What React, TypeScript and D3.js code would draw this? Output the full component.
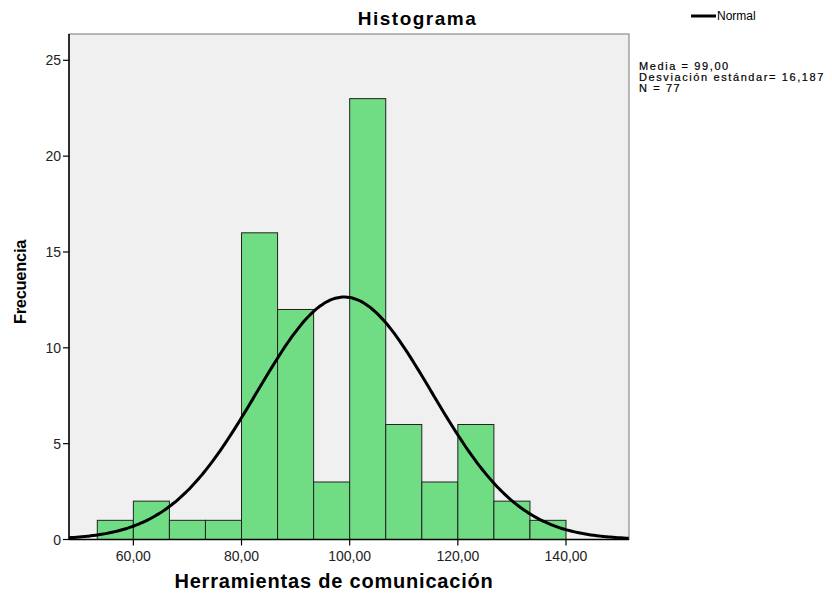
import React from "react";
import * as d3 from "d3";

const binStarts = [53.333, 60, 66.667, 73.333, 80, 86.667, 93.333, 100, 106.667, 113.333, 120, 126.667, 133.333];
const counts = [1, 2, 1, 1, 16, 12, 3, 23, 6, 3, 6, 2, 1];
const binWidth = 6.6667;
const xTicks = [60, 80, 100, 120, 140];
const yTicks = [0, 5, 10, 15, 20, 25];
const mean = 99.0;
const sd = 16.187;
const n = 77;
const statsLines = ["Media = 99,00", "Desviación estándar= 16,187", "N = 77"];

const W = 832, H = 594;
const L = 69, R = 629, T = 34, B = 539.5;

export default function App() {
  const x = d3.scaleLinear().domain([48.1, 151.65]).range([L, R]);
  const y = d3.scaleLinear().domain([0, 25]).range([B, 60.3]);
  const fmt = (v: number) => v.toFixed(2).replace(".", ",");
  const curvePts = d3.range(48.1, 151.66, 0.5).map((v) => {
    const z = (v - mean) / sd;
    return [v, (n * binWidth * Math.exp(-0.5 * z * z)) / (sd * Math.sqrt(2 * Math.PI))];
  });
  const line = d3.line<number[]>().x((d) => x(d[0])).y((d) => y(d[1])).curve(d3.curveBasis);
  const font = "'Liberation Sans', Arial, sans-serif";
  return (
    <svg width={W} height={H} style={{ position: "absolute", left: 0, top: 0 }} fontFamily={font}>
      <rect x={0} y={0} width={W} height={H} fill="#fff" />
      <text x={417.5} y={25} textAnchor="middle" fontSize={19} fontWeight="bold" letterSpacing={1.5}>Histograma</text>
      <rect x={L} y={T} width={R - L} height={B - T} fill="#F0F0F0" stroke="#777" strokeWidth={1} />
      {binStarts.map((s, i) => (
        <rect key={i} x={x(s)} y={y(counts[i])} width={x(s + binWidth) - x(s)} height={B - y(counts[i])}
          fill="#70DC84" stroke="#222" strokeWidth={1} />
      ))}
      <clipPath id="clip"><rect x={L} y={T} width={R - L} height={B - T} /></clipPath>
      <path d={line(curvePts) || ""} fill="none" stroke="#000" strokeWidth={3} clipPath="url(#clip)" />
      <line x1={L} x2={L} y1={T} y2={B} stroke="#000" strokeWidth={1.5} />
      <line x1={L} x2={R} y1={B} y2={B} stroke="#000" strokeWidth={1.5} />
      {yTicks.map((t) => (
        <g key={t}>
          <line x1={L - 6} x2={L} y1={y(t)} y2={y(t)} stroke="#000" strokeWidth={1.2} />
          <text x={L - 8} y={y(t) + 5} textAnchor="end" fontSize={14} fill="#222">{t}</text>
        </g>
      ))}
      {xTicks.map((t) => (
        <g key={t}>
          <line x1={x(t)} x2={x(t)} y1={B} y2={B + 6} stroke="#000" strokeWidth={1.2} />
          <text x={x(t)} y={B + 21} textAnchor="middle" fontSize={14} fill="#222">{fmt(t)}</text>
        </g>
      ))}
      <text x={334} y={588} textAnchor="middle" fontSize={20} fontWeight="bold" letterSpacing={0.8}>Herramientas de comunicación</text>
      <text transform="translate(26,282) rotate(-90)" textAnchor="middle" fontSize={16.5} fontWeight="bold" letterSpacing={-0.3}>Frecuencia</text>
      <line x1={691} x2={716} y1={16} y2={16} stroke="#000" strokeWidth={3} />
      <text x={717} y={20} fontSize={12}>Normal</text>
      {statsLines.map((s, i) => (
        <text key={i} x={639} y={70 + i * 11} fontSize={11} letterSpacing={1.6} stroke="#000" strokeWidth={0.2}>{s}</text>
      ))}
    </svg>
  );
}
